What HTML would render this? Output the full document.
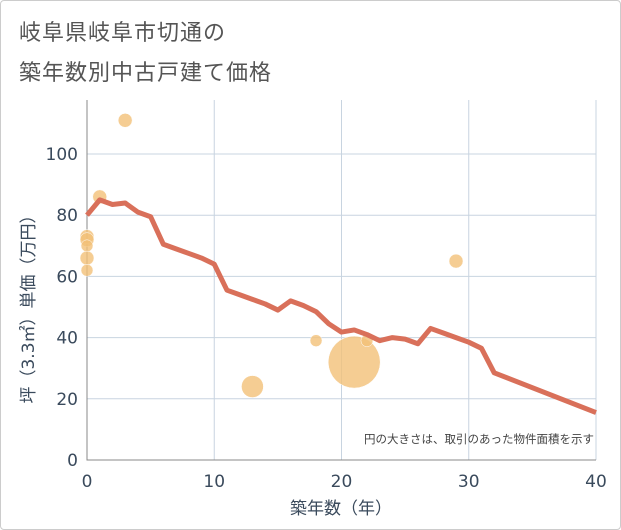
<!DOCTYPE html>
<html><head><meta charset="utf-8"><style>
body{margin:0;background:#fff;font-family:"DejaVu Sans","Noto Sans CJK JP",sans-serif}
#wrap{position:relative;width:619px;height:528px;border:1px solid #ccc;border-radius:4px;background:#fff}
.t{position:absolute;left:18px;font-size:22px;color:#555;letter-spacing:1px;font-family:"Liberation Sans","Noto Sans CJK JP",sans-serif}
svg text{font-family:"DejaVu Sans","Noto Sans CJK JP",sans-serif}
</style></head><body>
<div id="wrap">
<div class="t" style="top:14px">岐阜県岐阜市切通の</div>
<div class="t" style="top:54px">築年数別中古戸建て価格</div>
<svg id="svg" width="621" height="530" style="position:absolute;left:-1px;top:-1px"></svg>
</div>
<script>
const lineYears=[0,1,2,3,4,5,6,7,8,9,10,11,12,13,14,15,16,17,18,19,20,21,22,23,24,25,26,27,28,29,30,31,32,40];
const lineValues=[80,85,83.5,84,81,79.5,70.5,69,67.5,66,64,55.5,54,52.5,51,49,52,50.5,48.5,44.5,41.8,42.5,41,39,40,39.5,38,43,41.5,40,38.5,36.5,28.5,15.5];
const bubX=[3,1,0,0,0,0,0,13,18,21,22,29];
const bubY=[111,86,73,72,70,66,62,24,39,32,39,65];
const bubR=[7,7,7,7,6,7,6,11,6,26,6,7];
const xTicks=[0,10,20,30,40];
const yTicks=[0,20,40,60,80,100];
const NS="http://www.w3.org/2000/svg";
const svg=document.getElementById('svg');
const X=v=>87+v*(596-87)/40;
const Y=v=>460-v*3.06;
function mk(t,a){const e=document.createElementNS(NS,t);for(const k in a)e.setAttribute(k,a[k]);svg.appendChild(e);return e;}
xTicks.forEach(v=>{const l=mk('line',{x1:X(v),x2:X(v),y1:100,y2:460,stroke:'#c8d4e0','stroke-width':1});


const t=mk('text',{x:X(v),y:487,'text-anchor':'middle','font-size':17,fill:'#3a4a5c'});t.textContent=v;

});
yTicks.forEach(v=>{const l=mk('line',{x1:87,x2:596,y1:Y(v),y2:Y(v),stroke:'#c8d4e0','stroke-width':1});


const t=mk('text',{x:78,y:Y(v)+6,'text-anchor':'end','font-size':17,fill:'#3a4a5c'});t.textContent=v;

});
const ax=mk('path',{d:'M87 100V460H596',fill:'none',stroke:'#888','stroke-width':1});


bubX.forEach((v,i)=>{const c=mk('circle',{cx:X(v),cy:Y(bubY[i]),r:bubR[i],fill:'#f2c078','fill-opacity':0.8,stroke:'#fff','stroke-width':0.5});

});
const p=mk('polyline',{points:lineYears.map((v,i)=>X(v)+','+Y(lineValues[i])).join(' '),fill:'none',stroke:'#d9705a','stroke-width':5,'stroke-linejoin':'round'});


const n=mk('text',{x:594,y:443,'text-anchor':'end','font-size':11.5,fill:'#444'});n.textContent='円の大きさは、取引のあった物件面積を示す';


const xt=mk('text',{x:341,y:514,'text-anchor':'middle','font-size':17,fill:'#3a4a5c'});xt.textContent='築年数（年）';


const yt=mk('text',{x:0,y:0,'text-anchor':'middle','font-size':17,fill:'#3a4a5c',transform:'translate(34,305) rotate(-90)'});yt.textContent='坪（3.3㎡）単価（万円）';


</script>
</body></html>
